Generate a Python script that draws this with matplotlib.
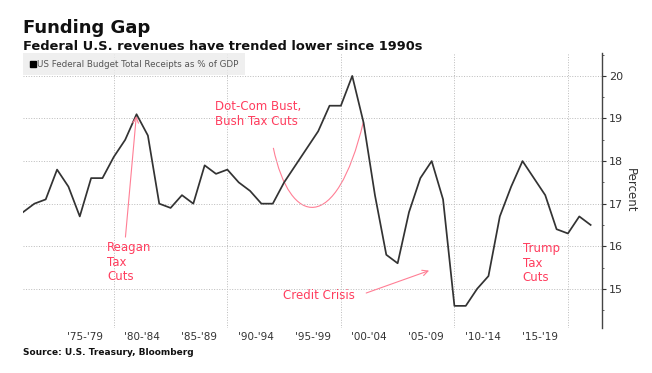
import numpy as np
import matplotlib
matplotlib.use('Agg')
import matplotlib.pyplot as plt
from matplotlib.lines import Line2D
from matplotlib.path import Path
from matplotlib.patches import PathPatch

# data (x = plotted year position)
years = list(range(1972, 2023))
receipts = [16.8, 17.0, 17.1, 17.8, 17.4, 16.7, 17.6, 17.6, 18.1, 18.5,
            19.1, 18.6, 17.0, 16.9, 17.2, 17.0, 17.9, 17.7, 17.8, 17.5,
            17.3, 17.0, 17.0, 17.5, 17.9, 18.3, 18.7, 19.3, 19.3, 20.0,
            18.9, 17.2, 15.8, 15.6, 16.8, 17.6, 18.0, 17.1, 14.6, 14.6,
            15.0, 15.3, 16.7, 17.4, 18.0, 17.6, 17.2, 16.4, 16.3, 16.7,
            16.5]
tick_pos = [1977.5, 1982.5, 1987.5, 1992.5, 1997.5, 2002.5, 2007.5, 2012.5, 2017.5]
tick_labels = ["'75-'79", "'80-'84", "'85-'89", "'90-'94", "'95-'99",
               "'00-'04", "'05-'09", "'10-'14", "'15-'19"]
decades = [1980, 1990, 2000, 2010, 2020]
y_ticks = [15, 16, 17, 18, 19, 20]

red = '#ff3d5e'
pink = '#ff7f95'

fig = plt.figure(figsize=(6.52, 3.73), dpi=100)
ax = fig.add_axes([0.0353, 0.1206, 0.888, 0.7364])

ax.plot(years, receipts, color='#333333', lw=1.25, zorder=3)
ax.set_xlim(1972, 2023)
ax.set_ylim(14.08, 20.53)

# axes styling
for s in ['left', 'top', 'bottom']:
    ax.spines[s].set_visible(False)
ax.spines['right'].set_color('#444444')
ax.spines['right'].set_linewidth(1.0)
ax.yaxis.tick_right()
ax.yaxis.set_label_position('right')
ax.set_yticks(y_ticks)
ax.set_yticks(np.arange(14.5, 20.6, 0.5), minor=True)
ax.tick_params(axis='y', which='major', length=3, pad=2, labelsize=8, colors='#333333')
ax.tick_params(axis='y', which='minor', length=1.5, colors='#444444')
ax.set_xticks(tick_pos)
ax.set_xticklabels(tick_labels)
ax.set_xticks(decades, minor=True)
ax.tick_params(axis='x', which='both', length=0, pad=3, labelsize=7.5, colors='#333333')
ax.grid(True, axis='y', which='major', color='#bbbbbb', ls=':', lw=0.7)
ax.grid(True, axis='x', which='minor', color='#bbbbbb', ls=':', lw=0.7)
ax.set_ylabel('Percent', rotation=270, labelpad=10, fontsize=8.5, color='#333333')

# legend
h = Line2D([], [], color='black', marker='s', ls='none', markersize=4)
leg = ax.legend([h], ['US Federal Budget Total Receipts as % of GDP'], loc='upper left',
                bbox_to_anchor=(0, 1.0), borderaxespad=0, fontsize=6.3, frameon=True,
                handletextpad=0.1, handlelength=0.8, borderpad=0.75, fancybox=False,
                labelcolor='#555555')
leg.get_frame().set_facecolor('#ececec')
leg.get_frame().set_edgecolor('none')

# annotations
ax.annotate('', xy=(1982.0, 19.12), xytext=(1981.0, 16.15),
            arrowprops=dict(arrowstyle='->', color=pink, lw=0.8))
ax.text(1979.4, 16.12, 'Reagan\nTax\nCuts', color=red, fontsize=8.5, va='top',
        linespacing=1.15)
ax.text(1988.9, 19.43, 'Dot-Com Bust,\nBush Tax Cuts', color=red, fontsize=8.5,
        va='top', linespacing=1.15)
verts = [(1994.05, 18.31), (1995.5, 16.45), (1999.6, 16.25), (2001.98, 18.92)]
curve = Path(verts, [Path.MOVETO, Path.CURVE4, Path.CURVE4, Path.CURVE4])
ax.add_patch(PathPatch(curve, fill=False, ec=pink, lw=0.8))
ax.text(1994.9, 14.85, 'Credit Crisis', color=red, fontsize=8.5, va='center')
ax.annotate('', xy=(2008.0, 15.45), xytext=(2002.0, 14.88),
            arrowprops=dict(arrowstyle='->', color=pink, lw=0.8))
ax.text(2016.0, 16.09, 'Trump\nTax\nCuts', color=red, fontsize=8.5, va='top',
        linespacing=1.15)

# titles and source
fig.text(0.035, 1 - 33 / 373, 'Funding Gap', fontsize=13, fontweight='bold',
         color='#111111', va='baseline')
fig.text(0.035, 1 - 49.5 / 373, 'Federal U.S. revenues have trended lower since 1990s',
         fontsize=9.4, fontweight='bold', color='#111111', va='baseline')
fig.text(0.035, 1 - 355 / 373, 'Source: U.S. Treasury, Bloomberg', fontsize=6.5,
         fontweight='bold', color='#111111', va='baseline')

fig.savefig('out.png', dpi=100)
